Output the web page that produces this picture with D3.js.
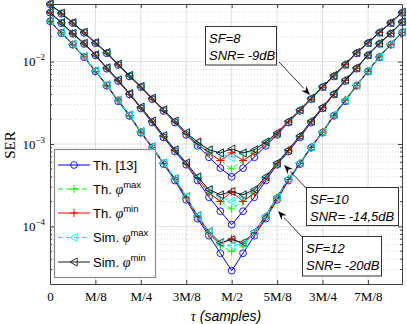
<!DOCTYPE html>
<html><head><meta charset="utf-8">
<script src="https://cdn.jsdelivr.net/npm/d3@7/dist/d3.min.js"></script>
<style>body{margin:0;background:#fff}svg{display:block}</style>
</head><body><svg id="c" width="407" height="324"></svg>
<script>
// ---------- data ----------
const tau = [0,1,2,3,4,5,6,7,8,9,10,11,12,13,14,15,16,17,18,19,20,21,22,23,24,25,26,27,28,29,30,31]; // units of M/32
const xTickValues = [0,4,8,12,16,20,24,28];
const xTickLabels = ["0","M/8","M/4","3M/8","M/2","5M/8","3M/4","7M/8"];
const yTickValues = [1e-4,1e-3,1e-2];
const yTickExponents = ["\u22124","\u22123","\u22122"];
const seriesNames = ["Th. [13]","Th. \u03c6max","Th. \u03c6min","Sim. \u03c6max","Sim. \u03c6min"];

// SF=8, SNR=-9dB
const sf8_th13   = [0.0495,0.0382,0.0293,0.0223,0.0167,0.0126,0.0091,0.0066,0.0049,0.0035,0.00252,0.00182,0.00129,0.00095,0.00069,0.00051,0.00040,0.00051,0.00069,0.00095,0.00129,0.00182,0.00252,0.0035,0.0049,0.0066,0.0091,0.0126,0.0167,0.0223,0.0293,0.0390];
const sf8_thMax  = [0.0497,0.0384,0.0295,0.0225,0.0168,0.0127,0.0092,0.0067,0.0049,0.0035,0.00254,0.00185,0.00132,0.00100,0.00077,0.00063,0.00050,0.00063,0.00077,0.00100,0.00132,0.00185,0.00254,0.0035,0.0049,0.0067,0.0092,0.0127,0.0168,0.0225,0.0295,0.0392];
const sf8_thMin  = [0.0497,0.0384,0.0295,0.0225,0.0168,0.0127,0.0092,0.0067,0.0049,0.0035,0.00254,0.00185,0.00132,0.00100,0.00078,0.00063,0.00078,0.00063,0.00078,0.00100,0.00132,0.00185,0.00254,0.0035,0.0049,0.0067,0.0092,0.0127,0.0168,0.0225,0.0295,0.0392];
const sf8_simMax = [0.0500,0.0386,0.0296,0.0226,0.0169,0.0128,0.0093,0.0068,0.0050,0.0036,0.00258,0.00188,0.00135,0.00104,0.00083,0.00077,0.00068,0.00077,0.00083,0.00104,0.00135,0.00188,0.00258,0.0036,0.0050,0.0068,0.0093,0.0128,0.0169,0.0226,0.0296,0.0396];
const sf8_simMin = [0.0500,0.0387,0.0297,0.0227,0.0170,0.0129,0.0093,0.0068,0.0050,0.0036,0.0026,0.0019,0.00137,0.00106,0.00085,0.00078,0.00087,0.00078,0.00085,0.00106,0.00137,0.0019,0.0026,0.0036,0.0050,0.0068,0.0093,0.0129,0.0170,0.0227,0.0297,0.0398];
// SF=10, SNR=-14,5dB
const sf10_th13   = [0.0393,0.0293,0.0218,0.0164,0.0119,0.0082,0.0058,0.0040,0.0027,0.00182,0.0012,0.00081,0.00056,0.00036,0.000226,0.000153,0.000105,0.000153,0.000226,0.00036,0.00056,0.00081,0.0012,0.00182,0.0027,0.0040,0.0058,0.0082,0.0119,0.0164,0.0218,0.0300];
const sf10_thMax  = [0.0395,0.0295,0.0219,0.0165,0.0120,0.0083,0.0059,0.0040,0.00275,0.00186,0.00123,0.00083,0.00057,0.00038,0.000255,0.000201,0.000163,0.000201,0.000255,0.00038,0.00057,0.00083,0.00123,0.00186,0.00275,0.0040,0.0059,0.0083,0.0120,0.0165,0.0219,0.0302];
const sf10_thMin  = [0.0395,0.0295,0.0219,0.0165,0.0120,0.0083,0.0059,0.0040,0.00275,0.00186,0.00123,0.00083,0.00057,0.00038,0.000255,0.000201,0.000264,0.000201,0.000255,0.00038,0.00057,0.00083,0.00123,0.00186,0.00275,0.0040,0.0059,0.0083,0.0120,0.0165,0.0219,0.0302];
const sf10_simMax = [0.0397,0.0296,0.0220,0.0166,0.0121,0.0084,0.0060,0.0041,0.0028,0.0019,0.00125,0.00085,0.00058,0.00039,0.000272,0.000229,0.000201,0.000229,0.000272,0.00039,0.00058,0.00085,0.00125,0.0019,0.0028,0.0041,0.0060,0.0084,0.0121,0.0166,0.0220,0.0304];
const sf10_simMin = [0.0397,0.0297,0.0221,0.0167,0.0121,0.0084,0.0060,0.0041,0.0028,0.0019,0.00126,0.00085,0.00059,0.00040,0.00028,0.000242,0.000265,0.000242,0.00028,0.00040,0.00059,0.00085,0.00126,0.0019,0.0028,0.0041,0.0060,0.0084,0.0121,0.0167,0.0221,0.0305];
// SF=12, SNR=-20dB
const sf12_th13   = [0.0308,0.0222,0.0160,0.0113,0.0076,0.0051,0.0033,0.0022,0.00137,0.0009,0.00057,0.00036,0.00021,0.000124,0.0000771,0.0000473,0.000029,0.0000473,0.0000771,0.000124,0.00021,0.00036,0.00057,0.0009,0.00137,0.0022,0.0033,0.0051,0.0076,0.0113,0.0160,0.0224];
const sf12_thMax  = [0.0309,0.0223,0.0161,0.0114,0.0076,0.0051,0.0034,0.0022,0.00139,0.00091,0.00058,0.00037,0.00022,0.00013,0.0000817,0.0000583,0.0000498,0.0000583,0.0000817,0.00013,0.00022,0.00037,0.00058,0.00091,0.00139,0.0022,0.0034,0.0051,0.0076,0.0114,0.0161,0.0226];
const sf12_thMin  = [0.0309,0.0223,0.0161,0.0114,0.0076,0.0051,0.0034,0.0022,0.00139,0.00091,0.00058,0.00037,0.00022,0.00013,0.0000817,0.0000617,0.0000707,0.0000617,0.0000817,0.00013,0.00022,0.00037,0.00058,0.00091,0.00139,0.0022,0.0034,0.0051,0.0076,0.0114,0.0161,0.0226];
const sf12_simMax = [0.0311,0.0225,0.0163,0.0115,0.0077,0.0052,0.0034,0.00226,0.0014,0.00092,0.00059,0.00038,0.000228,0.000134,0.000085,0.0000617,0.0000583,0.0000617,0.000085,0.000134,0.000228,0.00038,0.00059,0.00092,0.0014,0.00226,0.0034,0.0052,0.0077,0.0115,0.0163,0.0228];
const sf12_simMin = [0.0311,0.0225,0.0163,0.0115,0.0077,0.0052,0.0034,0.00226,0.00141,0.000925,0.00059,0.00038,0.000229,0.000135,0.0000863,0.0000634,0.000069,0.0000634,0.0000863,0.000135,0.000229,0.00038,0.00059,0.000925,0.00141,0.00226,0.0034,0.0052,0.0077,0.0115,0.0163,0.0228];

// ---------- styles ----------
const styles = [
  {color:"#0000ff", dash:null,  marker:"circle"},
  {color:"#00ff00", dash:"5,3", marker:"plus"},
  {color:"#ff0000", dash:null,  marker:"plus"},
  {color:"#00ffff", dash:"5,3", marker:"tri"},
  {color:"#1a1a1a", dash:null,  marker:"tri"}
];
const groups = [
  {series:[sf8_th13,sf8_thMax,sf8_thMin,sf8_simMax,sf8_simMin], order:[0,1,2,3,4]},
  {series:[sf10_th13,sf10_thMax,sf10_thMin,sf10_simMax,sf10_simMin], order:[0,1,2,3,4]},
  {series:[sf12_th13,sf12_thMax,sf12_thMin,sf12_simMax,sf12_simMin], order:[0,1,2,4,3]}
];

const svg = d3.select("#c");
const X0=50, X1=402, Y0=284, Y1=4;
const x = d3.scaleLinear().domain([0,31]).range([X0,X1]);
const y = d3.scaleLog().domain([2e-5,5e-2]).range([Y0,Y1]);

// grid
const minor = [];
[-5,-4,-3,-2].forEach(e=>{for(let k=2;k<=9;k++){const v=k*Math.pow(10,e); if(v>2e-5 && v<5e-2) minor.push(v);}});
const g = svg.append("g");
g.selectAll(".mn").data(minor).enter().append("line")
 .attr("x1",X0).attr("x2",X1).attr("y1",d=>y(d)).attr("y2",d=>y(d))
 .attr("stroke","#c8c8c8").attr("stroke-width",0.7).attr("stroke-dasharray","1,2");
g.selectAll(".mj").data(yTickValues).enter().append("line")
 .attr("x1",X0).attr("x2",X1).attr("y1",d=>y(d)).attr("y2",d=>y(d))
 .attr("stroke","#e0e0e0").attr("stroke-width",1);
g.selectAll(".vx").data(xTickValues.slice(1)).enter().append("line")
 .attr("x1",d=>x(d)).attr("x2",d=>x(d)).attr("y1",Y0).attr("y2",Y1)
 .attr("stroke","#e0e0e0").attr("stroke-width",1);

// markers
function drawMarker(sel, type, color){
  if(type==="circle"){
    sel.append("circle").attr("r",3.4).attr("fill","none").attr("stroke",color).attr("stroke-width",0.9);
  } else if(type==="plus"){
    sel.append("path").attr("d","M-4,0H4M0,-4V4").attr("stroke",color).attr("stroke-width",1).attr("fill","none");
  } else {
    sel.append("path").attr("d","M-4,0L3.2,-4L3.2,4Z").attr("stroke",color).attr("stroke-width",0.9).attr("fill","none");
  }
}
const line = d3.line().x((d,i)=>x(tau[i])).y(d=>y(d));
const plot = svg.append("g");
groups.forEach(gr=>{
  gr.order.forEach(si=>{
    const st = styles[si], data = gr.series[si];
    plot.append("path").attr("d",line(data)).attr("fill","none").attr("stroke",st.color)
      .attr("stroke-width",1).attr("stroke-dasharray",st.dash);
    data.forEach((v,i)=>{
      const m = plot.append("g").attr("transform",`translate(${x(tau[i])},${y(v)})`);
      drawMarker(m, st.marker, st.color);
    });
  });
});

// axes box & ticks
const axc = "#404040";
const xb = svg.append("g").attr("transform",`translate(0,${Y0})`)
 .call(d3.axisBottom(x).tickValues(xTickValues).tickFormat((d,i)=>xTickLabels[i]).tickSizeInner(-4).tickSizeOuter(0).tickPadding(8));
xb.select(".domain").attr("stroke",axc);
xb.selectAll(".tick line").attr("stroke",axc);
xb.selectAll("text").attr("font-family","'Liberation Serif','Times New Roman',serif").attr("font-size",13).attr("fill","#000");
const xt = svg.append("g").attr("transform",`translate(0,${Y1})`)
 .call(d3.axisTop(x).tickValues(xTickValues).tickFormat("").tickSizeInner(-4).tickSizeOuter(0));
xt.select(".domain").attr("stroke",axc); xt.selectAll(".tick line").attr("stroke",axc);
const yl = svg.append("g").attr("transform",`translate(${X0},0)`)
 .call(d3.axisLeft(y).tickValues(yTickValues).tickFormat("").tickSizeInner(-4).tickSizeOuter(0));
yl.select(".domain").attr("stroke",axc); yl.selectAll(".tick line").attr("stroke",axc);
const yr = svg.append("g").attr("transform",`translate(${X1},0)`)
 .call(d3.axisRight(y).tickValues(yTickValues).tickFormat("").tickSizeInner(-4).tickSizeOuter(0));
yr.select(".domain").attr("stroke",axc); yr.selectAll(".tick line").attr("stroke",axc);
[[X0,1],[X1,-1]].forEach(([xx,s])=>{
  svg.append("g").selectAll("line").data(minor).enter().append("line")
   .attr("x1",xx).attr("x2",xx+2*s).attr("y1",d=>y(d)).attr("y2",d=>y(d)).attr("stroke",axc);
});
// y tick labels
yTickValues.forEach((v,i)=>{
  const t = svg.append("text").attr("x",45).attr("y",y(v)+4.5).attr("text-anchor","end")
   .attr("font-family","'Liberation Serif','Times New Roman',serif").attr("font-size",13);
  t.append("tspan").text("10");
  t.append("tspan").attr("dy",-6).attr("font-size",9).text(yTickExponents[i]);
});

// axis labels
svg.append("text").attr("transform","translate(15,145) rotate(-90)").attr("text-anchor","middle")
 .attr("font-family","'Liberation Serif','Times New Roman',serif").attr("font-size",15).text("SER");
const xl = svg.append("text").attr("x",226).attr("y",321).attr("text-anchor","middle").attr("font-size",14);
xl.append("tspan").attr("font-family","'Liberation Serif',serif").attr("font-style","italic").text("\u03c4");
xl.append("tspan").attr("font-family","'Liberation Sans',Arial,sans-serif").attr("font-style","italic").text(" (samples)");

// legend
svg.append("rect").attr("x",54.5).attr("y",149.5).attr("width",101).attr("height",128)
 .attr("fill","#fff").attr("stroke","#8c8c8c").attr("stroke-width",1.2);
const ly = [165,189,213,237.5,262];
seriesNames.forEach((name,i)=>{
  const st = styles[i], yy = ly[i];
  svg.append("line").attr("x1",58).attr("x2",90).attr("y1",yy).attr("y2",yy)
   .attr("stroke",st.color).attr("stroke-width",1).attr("stroke-dasharray",st.dash);
  drawMarker(svg.append("g").attr("transform",`translate(74,${yy})`), st.marker, st.color);
  const t = svg.append("text").attr("x",93).attr("y",yy+4.5)
   .attr("font-family","'Liberation Sans',Arial,sans-serif").attr("font-size",13);
  if(i===0){ t.text(name); }
  else {
    const parts = name.split("\u03c6");
    t.append("tspan").text(parts[0]);
    t.append("tspan").attr("font-family","'Liberation Serif',serif").attr("font-style","italic").attr("font-size",14).text("\u03c6");
    t.append("tspan").attr("dy",-6).attr("font-size",9.5).text(parts[1]);
  }
});

// annotations
const notes = [
  {lines:["SF=8","SNR= -9dB"], bx:205.5, by:26.5, bw:71, bh:38.5, from:[279,62], to:[310,95]},
  {lines:["SF=10","SNR= -14,5dB"], bx:306.5, by:187.5, bw:92, bh:38, from:[307,189], to:[284,165]},
  {lines:["SF=12","SNR= -20dB"], bx:302.5, by:236.5, bw:79, bh:39.5, from:[303,238], to:[278,211]}
];
notes.forEach(n=>{
  const [x1,y1]=n.from,[x2,y2]=n.to;
  const ang=Math.atan2(y2-y1,x2-x1), L=9, W=3.5;
  const bxp=x2-L*Math.cos(ang), byp=y2-L*Math.sin(ang);
  svg.append("line").attr("x1",x1).attr("y1",y1).attr("x2",bxp).attr("y2",byp).attr("stroke","#000").attr("stroke-width",0.8);
  svg.append("path").attr("d",`M${x2},${y2}L${bxp+W*Math.sin(ang)},${byp-W*Math.cos(ang)}L${x2-0.7*L*Math.cos(ang)},${y2-0.7*L*Math.sin(ang)}L${bxp-W*Math.sin(ang)},${byp+W*Math.cos(ang)}Z`).attr("fill","#000");
  svg.append("rect").attr("x",n.bx).attr("y",n.by).attr("width",n.bw).attr("height",n.bh)
   .attr("fill","#fff").attr("stroke","#333").attr("stroke-width",1);
  n.lines.forEach((s,k)=>{
    svg.append("text").attr("x",n.bx+3.5).attr("y",n.by+16+k*17).attr("font-family","'Liberation Sans',Arial,sans-serif")
     .attr("font-style","italic").attr("font-size",13).text(s);
  });
});
</script></body></html>
